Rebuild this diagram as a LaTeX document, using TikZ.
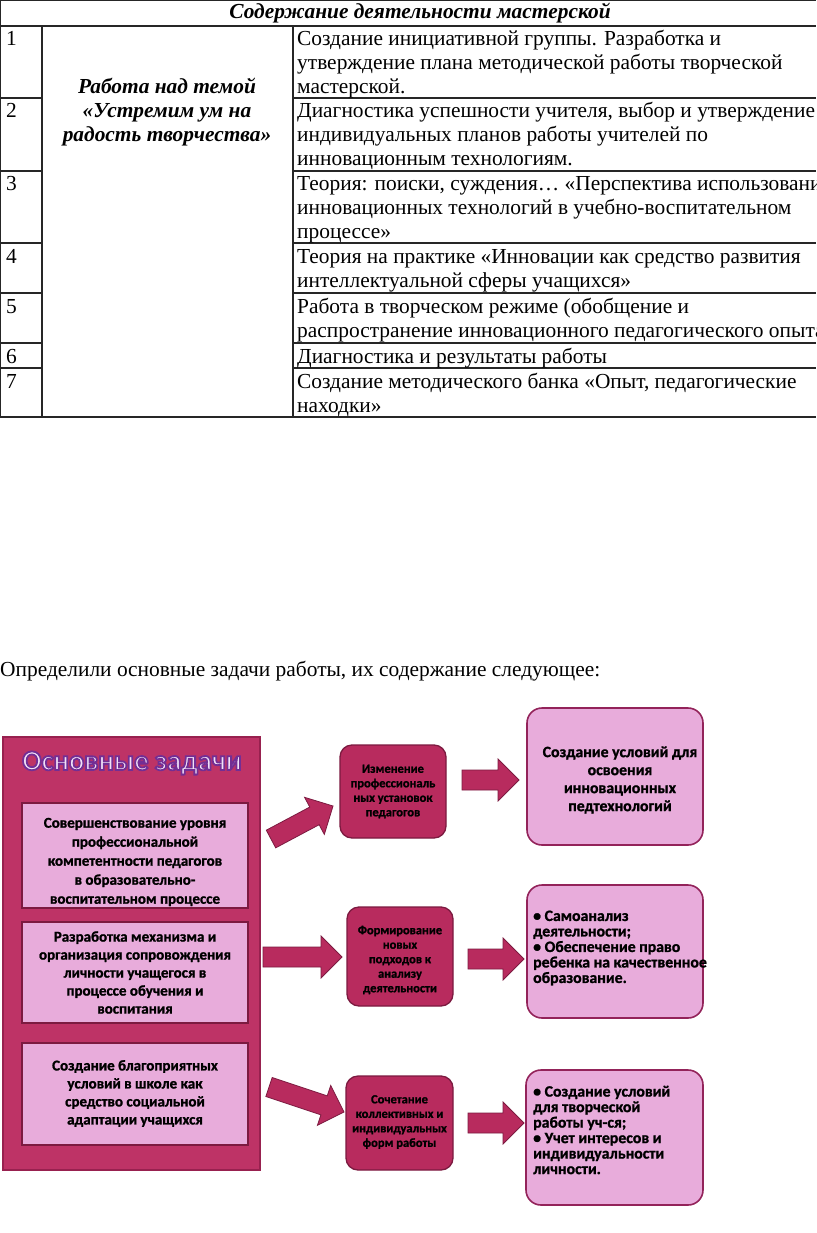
\documentclass[tikz,border=0pt]{standalone}
\usepackage{fontspec}
\setmainfont{Liberation Serif}
\newfontfamily\diagfont{Carlito}[BoldFeatures={FakeBold=1.2}]
\newfontfamily\ttlfont{Carlito}
\usetikzlibrary{calc}
\definecolor{crim}{HTML}{B82B5E}
\definecolor{crimdark}{HTML}{7C1A40}
\definecolor{outerfill}{HTML}{BE3366}
\definecolor{outerline}{HTML}{98214F}
\definecolor{pinkl}{HTML}{E8ACDB}
\definecolor{pinkb}{HTML}{93235A}
\definecolor{ttlfill}{HTML}{F0E2F8}
\newcommand\tabfont{\fontsize{21.4}{24}\selectfont}
\newcommand\outlinetext[1]{\special{pdf:literal direct 0.45 0.18 0.58 RG 1.8 w 2 Tr}#1\special{pdf:literal direct 0 Tr}}
\newcommand\blockarrow[2]{%
  \path let \p1=($(#2)-(#1)$) in \pgfextra{%
    \pgfmathsetmacro\tmpang{atan2(\y1,\x1)}%
    \pgfmathsetmacro\tmplen{veclen(\x1,\y1)}%
    \xdef\baang{\tmpang}\xdef\balen{\tmplen}};
  \begin{scope}[shift={(#1)}, rotate=\baang]
    \filldraw[barrow] (0pt,-10pt) -- ({\balen pt-21pt},-10pt) -- ({\balen pt-21pt},-21pt) -- (\balen pt,0pt) -- ({\balen pt-21pt},21pt) -- ({\balen pt-21pt},10pt) -- (0pt,10pt) -- cycle;
  \end{scope}}
\begin{document}
\begin{tikzpicture}[x=1pt,y=-1pt,
  tline/.style={line width=1.1pt, draw=black!85},
  tx/.style={anchor=base west, inner sep=0pt, font=\tabfont},
  txc/.style={anchor=base, inner sep=0pt, font=\tabfont\bfseries\itshape},
  barrow/.style={fill=crim, draw=crimdark, line width=0.8pt, line join=miter},
  darkbox/.style={rounded corners=12pt, fill=crim, draw=crimdark, line width=1.3pt, inner sep=0pt},
  lightbox/.style={rounded corners=15pt, fill=pinkl, draw=pinkb, line width=1.6pt, inner sep=0pt},
  innerbox/.style={fill=pinkl, draw=crimdark, line width=1.5pt, inner sep=0pt},
  dtxt/.style={font=\diagfont\bfseries\fontsize{12.5}{14.5}\selectfont, align=center, inner sep=0pt, text=black},
  ltxt/.style={font=\diagfont\bfseries\fontsize{15.8}{15.5}\selectfont, inner sep=0pt, text=black},
  ttl/.style={font=\ttlfont\bfseries\fontsize{28.5}{30}\selectfont, inner sep=0pt}
]
\useasboundingbox (0,0) rectangle (816,1233);
\clip (0,0) rectangle (816,1233);
\fill[white] (0,0) rectangle (816,1233);

% ---------- table ----------
\draw[tline] (0,0.6) -- (816,0.6);
\draw[tline] (0,26) -- (816,26);
\foreach \yy in {98,171,243,293,343,368} {
  \draw[tline] (0,\yy) -- (42,\yy);
  \draw[tline] (293,\yy) -- (816,\yy);
}
\draw[tline] (0,417) -- (816,417);
\draw[tline] (0.8,0) -- (0.8,417);
\draw[tline] (42,26) -- (42,417);
\draw[tline] (293,26) -- (293,417);

\node[txc] (hdr) at (420,19) {Содержание деятельности мастерской};

\node[tx] (n1) at (6,46) {1};
\node[tx] (n2) at (6,118) {2};
\node[tx] (n3) at (6,191) {3};
\node[tx] (n4) at (6,263) {4};
\node[tx] (n5) at (6,313) {5};
\node[tx] (n6) at (6,363) {6};
\node[tx] (n7) at (6,388) {7};

\node[txc] (m1) at (167,94) {Работа над темой};
\node[txc] (m2) at (167,118) {«Устремим ум на};
\node[txc] (m3) at (167,142) {радость творчества»};

\node[tx] (r1a) at (297,46) {Создание инициативной группы. Разработка и};
\node[tx] (r1b) at (297,70) {утверждение плана методической работы творческой};
\node[tx] (r1c) at (297,94) {мастерской.};
\node[tx] (r2a) at (297,118) {Диагностика успешности учителя, выбор и утверждение};
\node[tx] (r2b) at (297,142) {индивидуальных планов работы учителей по};
\node[tx] (r2c) at (297,166) {инновационным технологиям.};
\node[tx] (r3a) at (297,191) {Теория: поиски, суждения… «Перспектива использования};
\node[tx] (r3b) at (297,215) {инновационных технологий в учебно-воспитательном};
\node[tx] (r3c) at (297,239) {процессе»};
\node[tx] (r4a) at (297,263) {Теория на практике «Инновации как средство развития};
\node[tx] (r4b) at (297,287) {интеллектуальной сферы учащихся»};
\node[tx] (r5a) at (297,313) {Работа в творческом режиме (обобщение и};
\node[tx] (r5b) at (297,337) {распространение инновационного педагогического опыта)};
\node[tx] (r6a) at (297,363) {Диагностика и результаты работы};
\node[tx] (r7a) at (297,388) {Создание методического банка «Опыт, педагогические};
\node[tx] (r7b) at (297,412) {находки»};

\node[tx] (para) at (0,676) {Определили основные задачи работы, их содержание следующее:};

% ---------- diagram ----------
\node[fill=outerfill, draw=outerline, line width=1.2pt, minimum width=257pt, minimum height=433pt, inner sep=0pt] (outer) at (131.5,953.5) {};

\node[ttl, text=ttlfill] (title) at (132,763) {\outlinetext{Основные задачи}};

\node[innerbox, minimum width=226pt, minimum height=105pt] (in1) at (135,855.5) {};
\node[innerbox, minimum width=226pt, minimum height=101pt] (in2) at (135,972.5) {};
\node[innerbox, minimum width=226pt, minimum height=102pt] (in3) at (135,1094) {};
\node[ltxt, align=center, font=\diagfont\bfseries\fontsize{15}{19}\selectfont] (in1t) at (135,862) {Совершенствование уровня\\профессиональной\\компетентности педагогов\\в образовательно-\\воспитательном процессе};
\node[ltxt, align=center, font=\diagfont\bfseries\fontsize{15}{18}\selectfont] (in2t) at (135,972.5) {Разработка механизма и\\организация сопровождения\\личности учащегося в\\процессе обучения и\\воспитания};
\node[ltxt, align=center, font=\diagfont\bfseries\fontsize{15}{18}\selectfont] (in3t) at (135,1093.5) {Создание благоприятных\\условий в школе как\\средство социальной\\адаптации учащихся};

\node[darkbox, minimum width=106pt, minimum height=93pt] (bA) at (393,791.5) {};
\node[darkbox, minimum width=106pt, minimum height=99pt] (bB) at (400,956.5) {};
\node[darkbox, minimum width=107pt, minimum height=94pt] (bC) at (399.5,1123) {};
\node[dtxt] (bAt) at (bA) {Изменение\\профессиональ\\ных установок\\педагогов};
\node[dtxt] (bBt) at (400,960) {Формирование\\новых\\подходов к\\анализу\\деятельности};
\node[dtxt] (bCt) at (399.5,1122) {Сочетание\\коллективных и\\индивидуальных\\форм работы};

\node[lightbox, minimum width=176pt, minimum height=137pt] (lA) at (615,776.5) {};
\node[lightbox, minimum width=176pt, minimum height=133pt] (lB) at (615,951.5) {};
\node[lightbox, minimum width=177pt, minimum height=135pt] (lC) at (614.5,1137.5) {};
\node[ltxt, align=center, font=\diagfont\bfseries\fontsize{15.8}{18}\selectfont] (lAt) at (620,780) {Создание условий для\\освоения\\инновационных\\педтехнологий};
\node[ltxt, align=left, anchor=west] (lBt) at (533,948) {• Самоанализ\\деятельности;\\• Обеспечение право\\ребенка на качественное\\образование.};
\node[ltxt, align=left, anchor=west] (lCt) at (533,1130) {• Создание условий\\для творческой\\работы уч-ся;\\• Учет интересов и\\индивидуальности\\личности.};

\coordinate (aAt) at (271,839); \coordinate (aAh) at (333,806);
\coordinate (aAot) at (462,780); \coordinate (aAoh) at (519,780);
\coordinate (aBt) at (263,957); \coordinate (aBh) at (342,957);
\coordinate (aBot) at (468,959); \coordinate (aBoh) at (524,959);
\coordinate (aCt) at (269,1087); \coordinate (aCh) at (344,1112);
\coordinate (aCot) at (468,1123); \coordinate (aCoh) at (524,1123);
\blockarrow{aAt}{aAh}
\blockarrow{aAot}{aAoh}
\blockarrow{aBt}{aBh}
\blockarrow{aBot}{aBoh}
\blockarrow{aCt}{aCh}
\blockarrow{aCot}{aCoh}
\end{tikzpicture}
\end{document}
